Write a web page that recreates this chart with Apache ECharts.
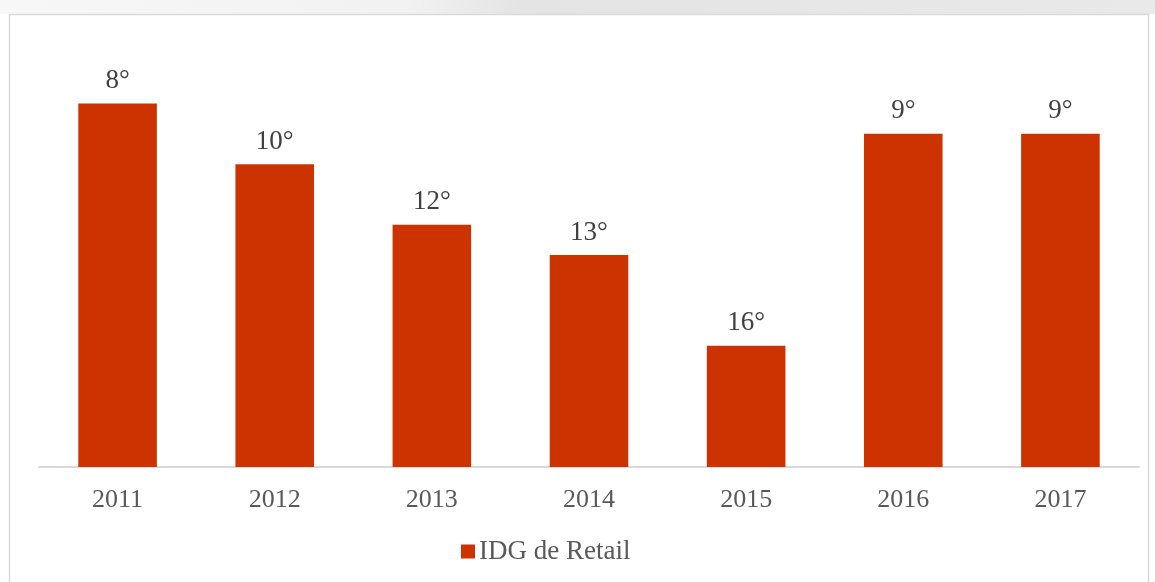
<!DOCTYPE html>
<html>
<head>
<meta charset="utf-8">
<script src="https://cdn.jsdelivr.net/npm/echarts@6/dist/echarts.min.js"></script>
<style>
  html, body { margin: 0; padding: 0; background: #fff; }
  #main { width: 1155px; height: 582px; }
</style>
</head>
<body>
<div id="main"></div>
<script>
// years on the x axis
const years = ['2011', '2012', '2013', '2014', '2015', '2016', '2017'];
// bar heights as drawn (taller = better position)
const barHeights = [12, 10, 8, 7, 4, 11, 11];
// ranking shown above each bar
const rankLabels = ['8°', '10°', '12°', '13°', '16°', '9°', '9°'];
const seriesName = 'IDG de Retail';

const chart = echarts.init(document.getElementById('main'));

const option = {
  backgroundColor: '#fff',
  animation: false,
  graphic: [
    {
      type: 'rect',
      shape: { x: 0, y: 0, width: 1155, height: 14 },
      style: {
        fill: {
          type: 'linear', x: 0, y: 0, x2: 1, y2: 0,
          colorStops: [
            { offset: 0, color: '#f7f7f7' },
            { offset: 0.35, color: '#f2f2f2' },
            { offset: 0.45, color: '#e4e4e4' },
            { offset: 1, color: '#e9e9e9' }
          ]
        }
      },
      silent: true
    },
    {
      type: 'rect',
      shape: { x: 9.5, y: 14.5, width: 1139, height: 600 },
      style: { fill: 'none', stroke: '#d9d9d9', lineWidth: 1.5 },
      silent: true
    }
  ],
  legend: {
    data: [seriesName],
    bottom: 12,
    left: 456,
    icon: 'rect',
    itemWidth: 14,
    itemHeight: 14,
    itemGap: 6,
    textStyle: {
      fontFamily: 'Liberation Serif',
      fontSize: 27,
      color: '#595959',
      padding: [0, 0, 0, -1]
    }
  },
  grid: {
    left: 39,
    right: 16,
    top: 43,
    bottom: 115,
    containLabel: false
  },
  xAxis: {
    type: 'category',
    data: years,
    axisLine: { lineStyle: { color: '#d9d9d9', width: 2 } },
    axisTick: { show: false },
    axisLabel: {
      margin: 20,
      fontFamily: 'Liberation Serif',
      fontSize: 26,
      color: '#595959'
    }
  },
  yAxis: {
    type: 'value',
    min: 0,
    max: 14,
    show: false,
    splitLine: { show: false }
  },
  series: [
    {
      name: seriesName,
      type: 'bar',
      data: barHeights,
      barCategoryGap: '50%',
      itemStyle: { color: '#cc3300' },
      label: {
        show: true,
        position: 'top',
        distance: 9,
        fontFamily: 'Liberation Serif',
        fontSize: 27,
        color: '#404040',
        formatter: function (p) {
          return rankLabels[p.dataIndex];
        }
      }
    }
  ]
};

chart.setOption(option);
</script>
</body>
</html>
